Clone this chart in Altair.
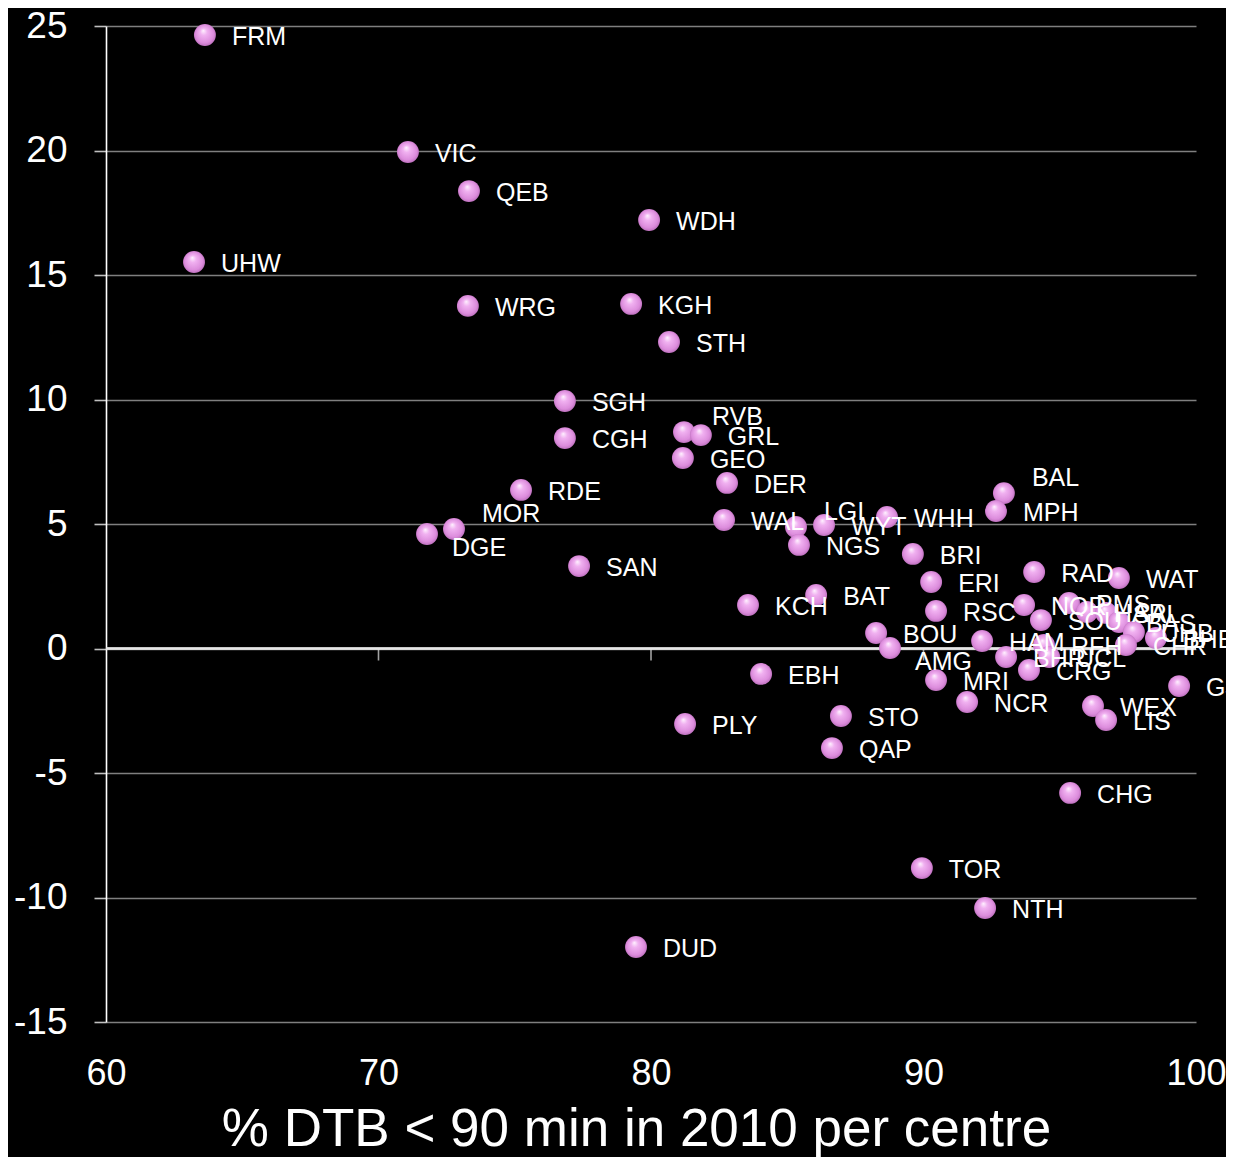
import altair as alt
import pandas as pd

centres = ["FRM", "VIC", "QEB", "WDH", "UHW", "WRG", "KGH", "STH", "SGH", "CGH",
           "RVB", "GRL", "GEO", "RDE", "DER", "MOR", "DGE", "SAN", "WAL", "LGI",
           "NGS", "WYT", "WHH", "BAL", "MPH", "BRI", "ERI", "RAD", "WAT", "BAT",
           "KCH", "RSC", "BOU", "AMG", "HAM", "NOR", "PMS", "SOU", "HAR", "SAL",
           "BAS", "RFH", "UHB", "BHE", "CHR", "BHR", "UCL", "CRG", "EBH", "MRI",
           "NCR", "STO", "QAP", "PLY", "WEX", "LIS", "GJH", "CHG", "TOR", "NTH",
           "DUD"]
pct_dtb_90 = [63.63, 71.08, 73.32, 79.93, 63.23, 73.28, 79.27, 80.66, 76.84, 76.84,
              81.21, 81.83, 81.17, 75.23, 82.79, 72.77, 71.78, 77.36, 82.68, 85.32,
              85.43, 86.35, 88.66, 92.95, 92.66, 89.61, 90.28, 94.06, 97.17, 86.06,
              83.56, 90.46, 88.26, 88.77, 92.15, 93.69, 95.34, 94.31, 96.00, 96.70,
              97.17, 94.42, 97.72, 98.53, 97.43, 93.03, 94.61, 93.87, 84.04, 90.46,
              91.60, 86.97, 86.64, 81.25, 96.22, 96.70, 99.38, 95.38, 89.94, 92.26,
              79.45]
change = [24.64, 19.94, 18.37, 17.21, 15.52, 13.76, 13.84, 12.31, 9.94, 8.45,
          8.69, 8.57, 7.65, 6.37, 6.65, 4.80, 4.60, 3.31, 5.16, 4.88,
          4.16, 4.96, 5.28, 6.24, 5.52, 3.80, 2.67, 3.07, 2.83, 2.15,
          1.75, 1.51, 0.62, 0.02, 0.30, 1.75, 1.83, 1.14, 1.47, 1.43,
          1.06, 0.14, 0.66, 0.42, 0.14, -0.34, -0.34, -0.86, -1.02, -1.27,
          -2.15, -2.71, -4.00, -3.03, -2.31, -2.87, -1.51, -5.80, -8.82, -10.42,
          -11.99]

x_ticks = [60, 70, 80, 90, 100]
y_ticks = [-15, -10, -5, 0, 5, 10, 15, 20, 25]
zero_tick_x = [70, 80, 90]
labels_above = ["RVB", "LGI", "MOR", "BAL"]
labels_below = ["DGE", "AMG"]

df = pd.DataFrame({"centre": centres, "x": pct_dtb_90, "y": change})
ticks_df = pd.DataFrame({"x": zero_tick_x, "y": [0] * len(zero_tick_x)})

FONT = "Liberation Sans"
W, H = 1090, 996

xs = alt.Scale(domain=[60, 100], nice=False, zero=False)
ys = alt.Scale(domain=[-15, 25], nice=False, zero=False)

base = alt.Chart(df)

axes_layer = base.mark_point(opacity=0).encode(
    x=alt.X("x:Q", scale=xs,
            axis=alt.Axis(values=x_ticks, title="% DTB < 90 min in 2010 per centre",
                          grid=False, domain=False, ticks=False,
                          labelColor="white", labelFont=FONT, labelFontSize=36,
                          labelPadding=34, labelFlush=False,
                          labelExpr="'' + datum.value",
                          titleColor="white", titleFont=FONT, titleFontSize=53,
                          titleFontWeight="normal", titlePadding=12, titleX=530)),
    y=alt.Y("y:Q", scale=ys,
            axis=alt.Axis(values=y_ticks, title=None, grid=True,
                          gridColor="#7f7f7f", gridWidth=1.6,
                          domain=True, domainColor="white", domainWidth=1.6,
                          ticks=True, tickColor="#bfbfbf", tickSize=12, tickWidth=1.6,
                          labelColor="white", labelFont=FONT, labelFontSize=37,
                          labelPadding=27, labelFlush=False, labelBaseline="middle",
                          labelExpr="'' + datum.value")),
)

zero_line = alt.Chart(ticks_df).mark_rule(color="#e6e6e6", strokeWidth=2).encode(
    y=alt.Y("y:Q", scale=ys),
)

zero_ticks = alt.Chart(ticks_df).mark_tick(
    orient="vertical", color="#e6e6e6", size=12, thickness=1.6, yOffset=6
).encode(x=alt.X("x:Q", scale=xs), y=alt.Y("y:Q", scale=ys))

ball_fill = alt.Gradient(
    gradient="radial",
    stops=[
        alt.GradientStop(offset=0, color="#fff2ff"),
        alt.GradientStop(offset=0.3, color="#f0b0f0"),
        alt.GradientStop(offset=0.75, color="#dc8cdc"),
        alt.GradientStop(offset=1, color="#b468b4"),
    ],
    x1=0.42, y1=0.3, r1=0.0, x2=0.5, y2=0.5, r2=0.55,
)

points = base.mark_circle(size=480, opacity=1, fill=ball_fill).encode(
    x=alt.X("x:Q", scale=xs),
    y=alt.Y("y:Q", scale=ys),
)

label_common = dict(color="white", font=FONT, fontSize=25, align="left", baseline="middle")

labels_normal = base.transform_filter(
    ~alt.FieldOneOfPredicate(field="centre", oneOf=labels_above + labels_below)
).mark_text(dx=27, dy=2, **label_common).encode(
    x=alt.X("x:Q", scale=xs), y=alt.Y("y:Q", scale=ys), text="centre:N"
)
labels_up = base.transform_filter(
    alt.FieldOneOfPredicate(field="centre", oneOf=labels_above)
).mark_text(dx=28, dy=-15, **label_common).encode(
    x=alt.X("x:Q", scale=xs), y=alt.Y("y:Q", scale=ys), text="centre:N"
)
labels_down = base.transform_filter(
    alt.FieldOneOfPredicate(field="centre", oneOf=labels_below)
).mark_text(dx=25, dy=14, **label_common).encode(
    x=alt.X("x:Q", scale=xs), y=alt.Y("y:Q", scale=ys), text="centre:N"
)

chart = alt.layer(
    axes_layer, zero_line, zero_ticks, points, labels_normal, labels_up, labels_down
).properties(
    width=W, height=H,
    autosize=alt.AutoSizeParams(type="none"),
    padding={"left": 98, "top": 18, "right": 30, "bottom": 135},
    background="black",
).configure_view(stroke=None)

chart.save("out.html", embed_options={"renderer": "svg", "actions": False})
